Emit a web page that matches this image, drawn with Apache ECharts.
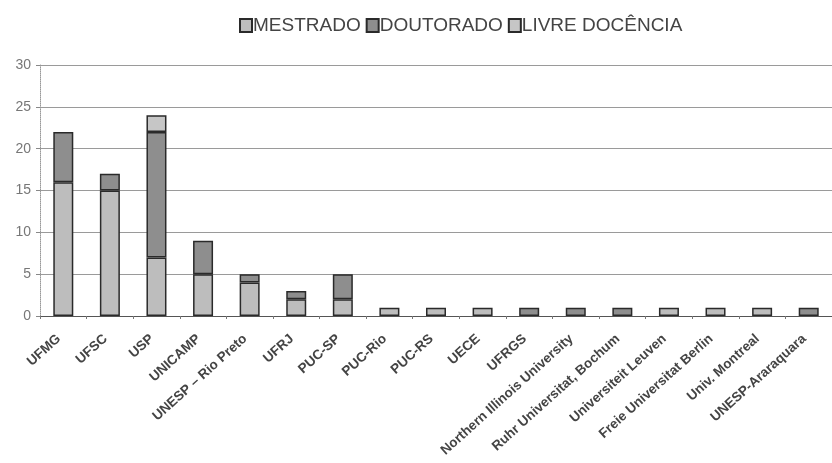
<!DOCTYPE html>
<html>
<head>
<meta charset="utf-8">
<script src="https://cdn.jsdelivr.net/npm/echarts@6/dist/echarts.min.js"></script>
<style>
html,body{margin:0;padding:0;background:#fff;}
#chart{width:832px;height:463px;}
</style>
</head>
<body>
<div id="chart"></div>
<script>
const categories = ["UFMG","UFSC","USP","UNICAMP","UNESP – Rio Preto","UFRJ","PUC-SP","PUC-Rio","PUC-RS","UECE","UFRGS","Northern Illinois University","Ruhr Universitat, Bochum","Universiteit Leuven","Freie Universitat Berlin","Univ. Montreal","UNESP-Araraquara"];
const mestrado  = [16,15,7,5,4,2,2,1,1,1,0,0,0,1,1,1,0];
const doutorado = [6,2,15,4,1,1,3,0,0,0,1,1,1,0,0,0,1];
const livre     = [0,0,2,0,0,0,0,0,0,0,0,0,0,0,0,0,0];
const yTicks = [0,5,10,15,20,25,30];

const font = "Liberation Sans, Arial, sans-serif";
const toData = arr => arr.map(v => v === 0 ? '-' : v);
const mk = (name, data, color) => ({
  name, type: 'bar', stack: 'total', barWidth: 20,
  data: toData(data),
  itemStyle: { color, borderColor: '#2a2a2a', borderWidth: 1.5 },
  emphasis: { disabled: true }
});

const chart = echarts.init(document.getElementById('chart'));
chart.setOption({
  animation: false,
  backgroundColor: '#fff',
  legend: {
    left: 234, top: 11, itemWidth: 12, itemHeight: 13, itemGap: 5,
    icon: 'rect',
    textStyle: { fontFamily: font, fontSize: 19, color: '#444', padding: [0,0,0,-4] },
    data: ['MESTRADO','DOUTORADO','LIVRE DOCÊNCIA']
  },
  grid: { left: 40, top: 65, width: 806, height: 251, containLabel: false },
  xAxis: {
    type: 'category', data: categories,
    axisLine: { lineStyle: { color: '#555', width: 1 } },
    axisTick: { show: true, length: 3, lineStyle: { color: '#777' } },
    axisLabel: { rotate: 42, interval: 0, margin: 17, padding: [0, 6, 0, 0], fontFamily: font, fontSize: 13.5, fontWeight: 'bold', color: '#444' }
  },
  yAxis: {
    type: 'value', min: 0, max: 30, interval: 5,
    axisLine: { show: true, lineStyle: { color: '#999', type: 'dotted' } },
    axisTick: { show: true, length: 4, lineStyle: { color: '#888' } },
    axisLabel: { fontFamily: font, fontSize: 14, color: '#777', margin: 9,
      formatter: v => yTicks.includes(v) ? String(v) : '' },
    splitLine: { lineStyle: { color: '#9a9a9a', width: 1 } }
  },
  series: [
    mk('MESTRADO', mestrado, '#bdbdbd'),
    mk('DOUTORADO', doutorado, '#8e8e8e'),
    mk('LIVRE DOCÊNCIA', livre, '#c6c6c6')
  ]
});
</script>
</body>
</html>
